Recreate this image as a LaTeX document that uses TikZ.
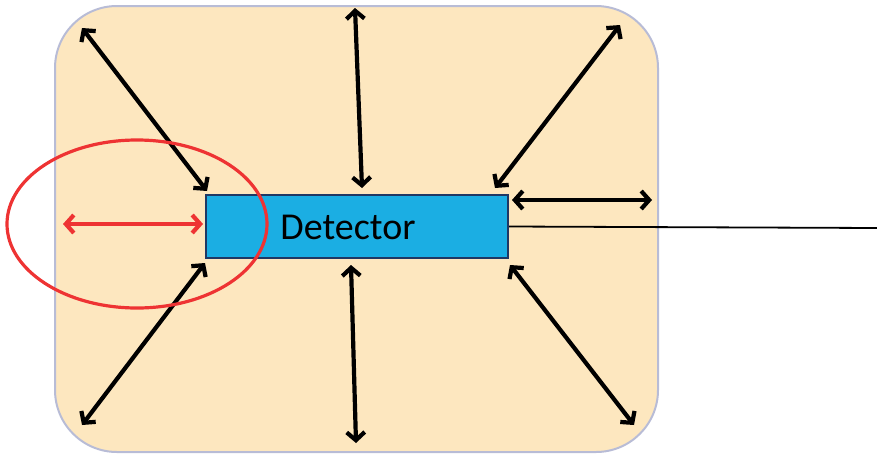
\documentclass[tikz,border=0pt]{standalone}
\usepackage{fontspec}
\setmainfont{Carlito}
\usetikzlibrary{arrows.meta,shapes.geometric}
\definecolor{chamber}{HTML}{FDE7BF}
\definecolor{chamberedge}{HTML}{B8BCD6}
\definecolor{detfill}{HTML}{1BAEE3}
\definecolor{detedge}{HTML}{1F3864}
\definecolor{hot}{HTML}{EE3333}
\tikzset{
  flow/.style={line width=4.2pt, {Straight Barb[length=8pt,width=18pt,line width=4.2pt]}-{Straight Barb[length=8pt,width=18pt,line width=4.2pt]}},
  redflow/.style={flow, draw=hot},
}
\begin{document}
\begin{tikzpicture}[x=1pt,y=-1pt]
\useasboundingbox (0,0) rectangle (877,455);
% chamber
\draw[fill=chamber, draw=chamberedge, line width=2pt, rounded corners=62pt] (55,6) rectangle (658,452);
% detector
\node[draw=detedge, fill=detfill, line width=2pt, minimum width=302pt, minimum height=63pt, inner sep=0pt, anchor=north west] (det) at (205,194) {};
\node[font=\fontsize{38}{44}\selectfont] (lbl) at (348,227) {Detector};
% signal line
\coordinate (out) at (877,228);
\draw[line width=1.8pt] (det.east) -- (out);
% arrow end points
\coordinate (tl) at (82,28);   \coordinate (tlD) at (207,191);
\coordinate (tm) at (355,8);   \coordinate (tmD) at (362,188);
\coordinate (tr) at (620,25);  \coordinate (trD) at (495,188);
\coordinate (rD) at (512,200); \coordinate (r) at (652,200);
\coordinate (brD) at (510,265);\coordinate (br) at (634,425);
\coordinate (bmD) at (351,265);\coordinate (bm) at (356,443);
\coordinate (blD) at (205,263);\coordinate (bl) at (82,425);
\coordinate (lf) at (63,224);  \coordinate (lfD) at (203,224);
\draw[flow] (tl) -- (tlD);
\draw[flow] (tm) -- (tmD);
\draw[flow] (tr) -- (trD);
\draw[flow] (rD) -- (r);
\draw[flow] (brD) -- (br);
\draw[flow] (bmD) -- (bm);
\draw[flow] (blD) -- (bl);
\draw[redflow] (lf) -- (lfD);
% highlight
\node[ellipse, draw=hot, line width=3.2pt, minimum width=260pt, minimum height=168pt, inner sep=0pt] (ring) at (137,224) {};
\end{tikzpicture}
\end{document}
